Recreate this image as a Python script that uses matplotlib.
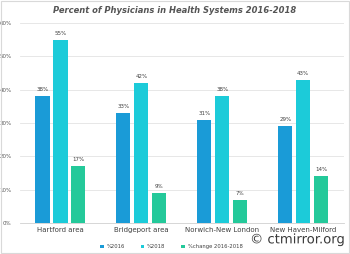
import numpy as np
import matplotlib.pyplot as plt
import matplotlib.patheffects as pe

regions = ['Hartford area', 'Bridgeport area', 'Norwich-New London', 'New Haven-Milford']
pct_2016 = [38, 33, 31, 29]
pct_2018 = [55, 42, 38, 43]
pct_change = [17, 9, 7, 14]
series_names = ['%2016', '%2018', '%change 2016-2018']
colors = ['#1a9bd7', '#1ccbd9', '#24c99a']

fig = plt.figure(figsize=(3.5, 2.54), dpi=100)
ax = fig.add_axes([0.057, 0.122, 0.925, 0.787])

x = np.arange(len(regions))
w = 0.175
step = 0.222
for i, (vals, name, c) in enumerate(zip([pct_2016, pct_2018, pct_change], series_names, colors)):
    bars = ax.bar(x + (i - 1) * step, vals, width=w, color=c, label=name, zorder=3)
    for b, v in zip(bars, vals):
        ax.text(b.get_x() + b.get_width() / 2, v + 1.2, f'{v}%', ha='center', va='bottom',
                fontsize=4, color='#404040')

ax.set_ylim(0, 60)
ax.set_xlim(-0.5, 3.5)
ax.set_yticks(range(0, 61, 10))
ax.set_yticklabels([f'{t}%' for t in range(0, 61, 10)])
ax.tick_params(axis='y', labelsize=4, colors='#595959', length=0, pad=6)
ax.tick_params(axis='x', labelsize=5, colors='#404040', length=0, pad=3)
ax.set_xticks(x)
ax.set_xticklabels(regions)
ax.grid(axis='y', color='#e3e3e3', linewidth=0.6, zorder=0)
for s in ['top', 'right', 'left']:
    ax.spines[s].set_visible(False)
ax.spines['bottom'].set_color('#d0d0d0')
ax.spines['bottom'].set_linewidth(0.6)

fig.text(0.5, 0.96, 'Percent of Physicians in Health Systems 2016-2018', ha='center', va='center',
         fontsize=6, style='italic', fontweight='bold', color='#555555')

fig.legend(loc='lower center', bbox_to_anchor=(0.49, 0.0), ncol=3, frameon=False, fontsize=3.8,
           handlelength=0.6, handleheight=0.6, columnspacing=3.0, handletextpad=0.6,
           labelcolor='#404040')

fig.text(0.988, 0.03, '© ctmirror.org', ha='right', va='bottom', fontsize=9.5, color='#3a3a3a',
         path_effects=[pe.withStroke(linewidth=2, foreground='white')])

fig.patches.append(plt.Rectangle((0.003, 0.003), 0.994, 0.994, transform=fig.transFigure,
                                 fill=False, edgecolor='#d9d9d9', linewidth=0.8))

fig.savefig('out.png', dpi=100)
